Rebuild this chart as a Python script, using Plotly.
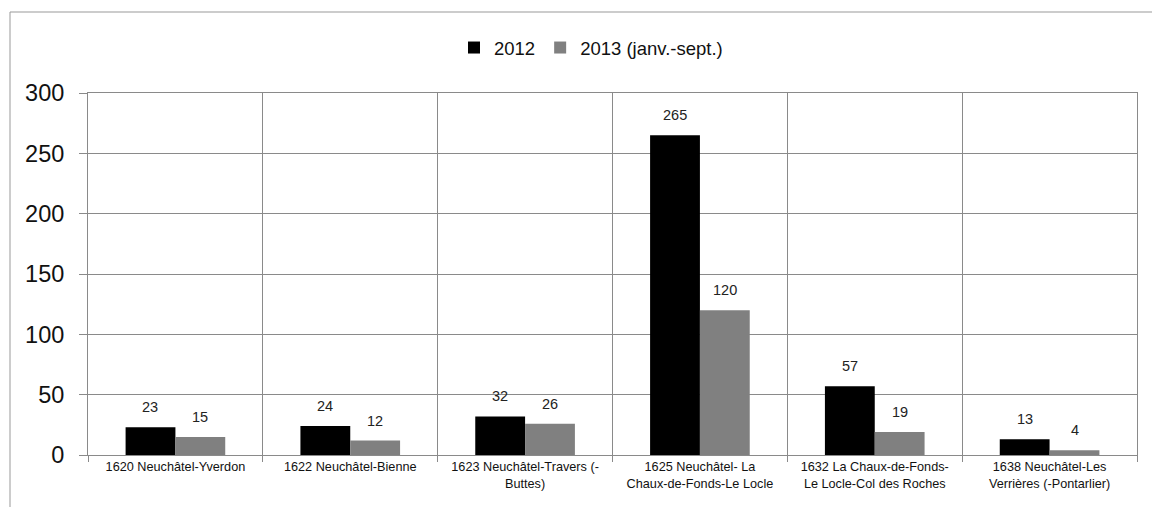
import plotly.graph_objects as go

categories = [
    "1620 Neuchâtel-Yverdon",
    "1622 Neuchâtel-Bienne",
    "1623 Neuchâtel-Travers (-<br>Buttes)",
    "1625 Neuchâtel- La<br>Chaux-de-Fonds-Le Locle",
    "1632 La Chaux-de-Fonds-<br>Le Locle-Col des Roches",
    "1638 Neuchâtel-Les<br>Verrières (-Pontarlier)",
]
series_names = ["2012", "2013 (janv.-sept.)"]
values_2012 = [23, 24, 32, 265, 57, 13]
values_2013 = [15, 12, 26, 120, 19, 4]
colors = ["#000000", "#808080"]
y_ticks = [0, 50, 100, 150, 200, 250, 300]

FONT = "Liberation Sans, Arial, sans-serif"

fig = go.Figure()
for name, vals, col in zip(series_names, [values_2012, values_2013], colors):
    fig.add_trace(go.Bar(x=categories, y=vals, name=name, marker=dict(color=col, line=dict(width=0))))

annotations = []
for vals, shift in [(values_2012, -25), (values_2013, 25)]:
    for c, v in zip(categories, vals):
        annotations.append(dict(x=c, y=v, xref="x", yref="y", text=str(v), showarrow=False,
                                xshift=shift, yshift=20, yanchor="middle",
                                font=dict(family=FONT, size=14.5, color="#222")))

fig.update_layout(
    width=1152, height=507,
    margin=dict(l=88, r=15, t=93, b=52),
    paper_bgcolor="white", plot_bgcolor="white",
    barmode="group", bargap=0.43, bargroupgap=0,
    font=dict(family=FONT, color="#111"),
    legend=dict(orientation="h", x=(591 - 88) / 1049, xanchor="center", y=(455 - 48) / 362, yanchor="middle",
                font=dict(family=FONT, size=18.5, color="#111"), itemwidth=30,
                traceorder="normal"),
    annotations=annotations,
    xaxis=dict(type="category", tickson="boundaries", showgrid=True, gridcolor="#8a8a8a", gridwidth=1,
               ticks="outside", ticklen=6, tickcolor="#8a8a8a",
               showline=True, linecolor="#8a8a8a", mirror=True,
               tickfont=dict(family=FONT, size=12.7, color="#111")),
    yaxis=dict(range=[0, 300], tickvals=y_ticks, showgrid=True, gridcolor="#8a8a8a", gridwidth=1,
               ticks="outside", ticklen=8, tickcolor="#8a8a8a", ticklabelstandoff=10,
               showline=True, linecolor="#8a8a8a", mirror=True, zeroline=False,
               tickfont=dict(family=FONT, size=23.5, color="#111")),
    shapes=[
        dict(type="line", xref="paper", yref="paper", x0=(10-88)/1049, x1=1.2, y0=(455-12)/362, y1=(455-12)/362,
             line=dict(color="#999", width=1)),
        dict(type="line", xref="paper", yref="paper", x0=(10-88)/1049, x1=(10-88)/1049, y0=(455-12)/362, y1=-0.3,
             line=dict(color="#999", width=1)),
    ],
)

fig.write_html("out.html")
